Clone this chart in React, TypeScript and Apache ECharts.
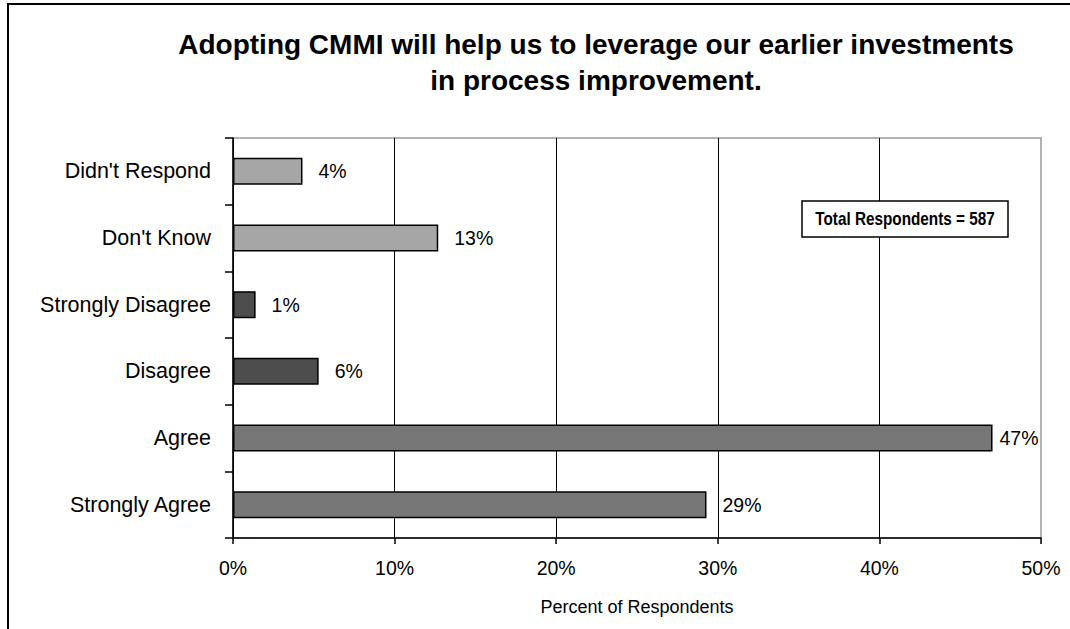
import React, { useEffect, useRef } from "react";
import * as echarts from "echarts";

const titleLines = [
  "Adopting CMMI will help us to leverage our earlier investments",
  "in process improvement.",
];
const categories = [
  "Didn't Respond",
  "Don't Know",
  "Strongly Disagree",
  "Disagree",
  "Agree",
  "Strongly Agree",
];
const values = [4.3, 12.7, 1.4, 5.3, 47.0, 29.3];
const valueLabels = ["4%", "13%", "1%", "6%", "47%", "29%"];
const barColors = ["#a6a6a6", "#a6a6a6", "#4d4d4d", "#4d4d4d", "#777777", "#777777"];
const labelGaps = [16, 16, 16, 16, 7, 16];
const xMin = 0;
const xMax = 50;
const xStep = 10;
const axisName = "Percent of Respondents";
const annotation = "Total Respondents = 587";

const FONT = "'Liberation Sans', Arial, Helvetica, sans-serif";

export default function App() {
  const ref = useRef<HTMLDivElement>(null);
  useEffect(() => {
    if (!ref.current) return;
    const chart = echarts.init(ref.current, null, { renderer: "svg" });
    chart.setOption({
      animation: false,
      backgroundColor: "#ffffff",
      grid: {
        left: 233,
        right: 29,
        top: 138,
        bottom: 91,
        show: true,
        borderColor: "#999999",
        borderWidth: 1.5,
        backgroundColor: "transparent",
      },
      xAxis: {
        type: "value",
        min: xMin,
        max: xMax,
        interval: xStep,
        axisLine: { show: true, lineStyle: { color: "#000", width: 1.5 } },
        axisTick: { show: true, length: 6, lineStyle: { color: "#000", width: 1.5 } },
        axisLabel: {
          formatter: "{value}%",
          color: "#000",
          fontSize: 19.5,
          fontFamily: FONT,
          margin: 20,
        },
        splitLine: { show: true, showMaxLine: false, lineStyle: { color: "#000", width: 1 } },
        name: axisName,
        nameLocation: "middle",
        nameGap: 60,
        nameTextStyle: { color: "#000", fontSize: 18, fontFamily: FONT },
      },
      yAxis: {
        type: "category",
        inverse: true,
        data: categories,
        axisLine: { show: true, lineStyle: { color: "#000", width: 1.5 } },
        axisTick: { show: true, length: 8, lineStyle: { color: "#000", width: 1.5 } },
        axisLabel: { color: "#000", fontSize: 21.5, fontFamily: FONT, margin: 22 },
        splitLine: { show: false },
      },
      series: [
        {
          type: "bar",
          barWidth: 27,
          data: values.map((v, i) => ({
            value: v,
            itemStyle: { color: barColors[i] },
            label: { distance: labelGaps[i] },
          })),
          itemStyle: { borderColor: "#000", borderWidth: 1.5 },
          label: {
            show: true,
            position: "right",
            color: "#000",
            fontSize: 19.5,
            fontFamily: FONT,
            formatter: (p: any) => valueLabels[p.dataIndex],
          },
        },
      ],
      graphic: [
        {
          type: "polyline",
          z: 100,
          shape: { points: [[8, 700], [8, 4], [1100, 4]] },
          style: { stroke: "#000", lineWidth: 2, fill: "none" },
        },
        {
          type: "text",
          z: 100,
          x: 596,
          y: 26,
          style: {
            text: titleLines.join("\n"),
            textAlign: "center",
            textVerticalAlign: "top",
            fontSize: 28,
            fontWeight: "bold",
            fontFamily: FONT,
            lineHeight: 36,
            fill: "#000",
          },
        },
        {
          type: "group",
          z: 100,
          children: [
            {
              type: "rect",
              z: 100,
              shape: { x: 802, y: 201, width: 206, height: 36 },
              style: { fill: "#fff", stroke: "#000", lineWidth: 1.5 },
            },
            {
              type: "text",
              z: 101,
              x: 905,
              y: 219,
              scaleX: 0.85,
              style: {
                text: annotation,
                textAlign: "center",
                textVerticalAlign: "middle",
                fontSize: 18,
                fontWeight: "bold",
                fontFamily: FONT,
                fill: "#000",
              },
            },
          ],
        },
      ],
    });
    return () => chart.dispose();
  }, []);
  return (
    <div
      ref={ref}
      style={{ position: "absolute", left: 0, top: 0, width: 1070, height: 629 }}
    />
  );
}
